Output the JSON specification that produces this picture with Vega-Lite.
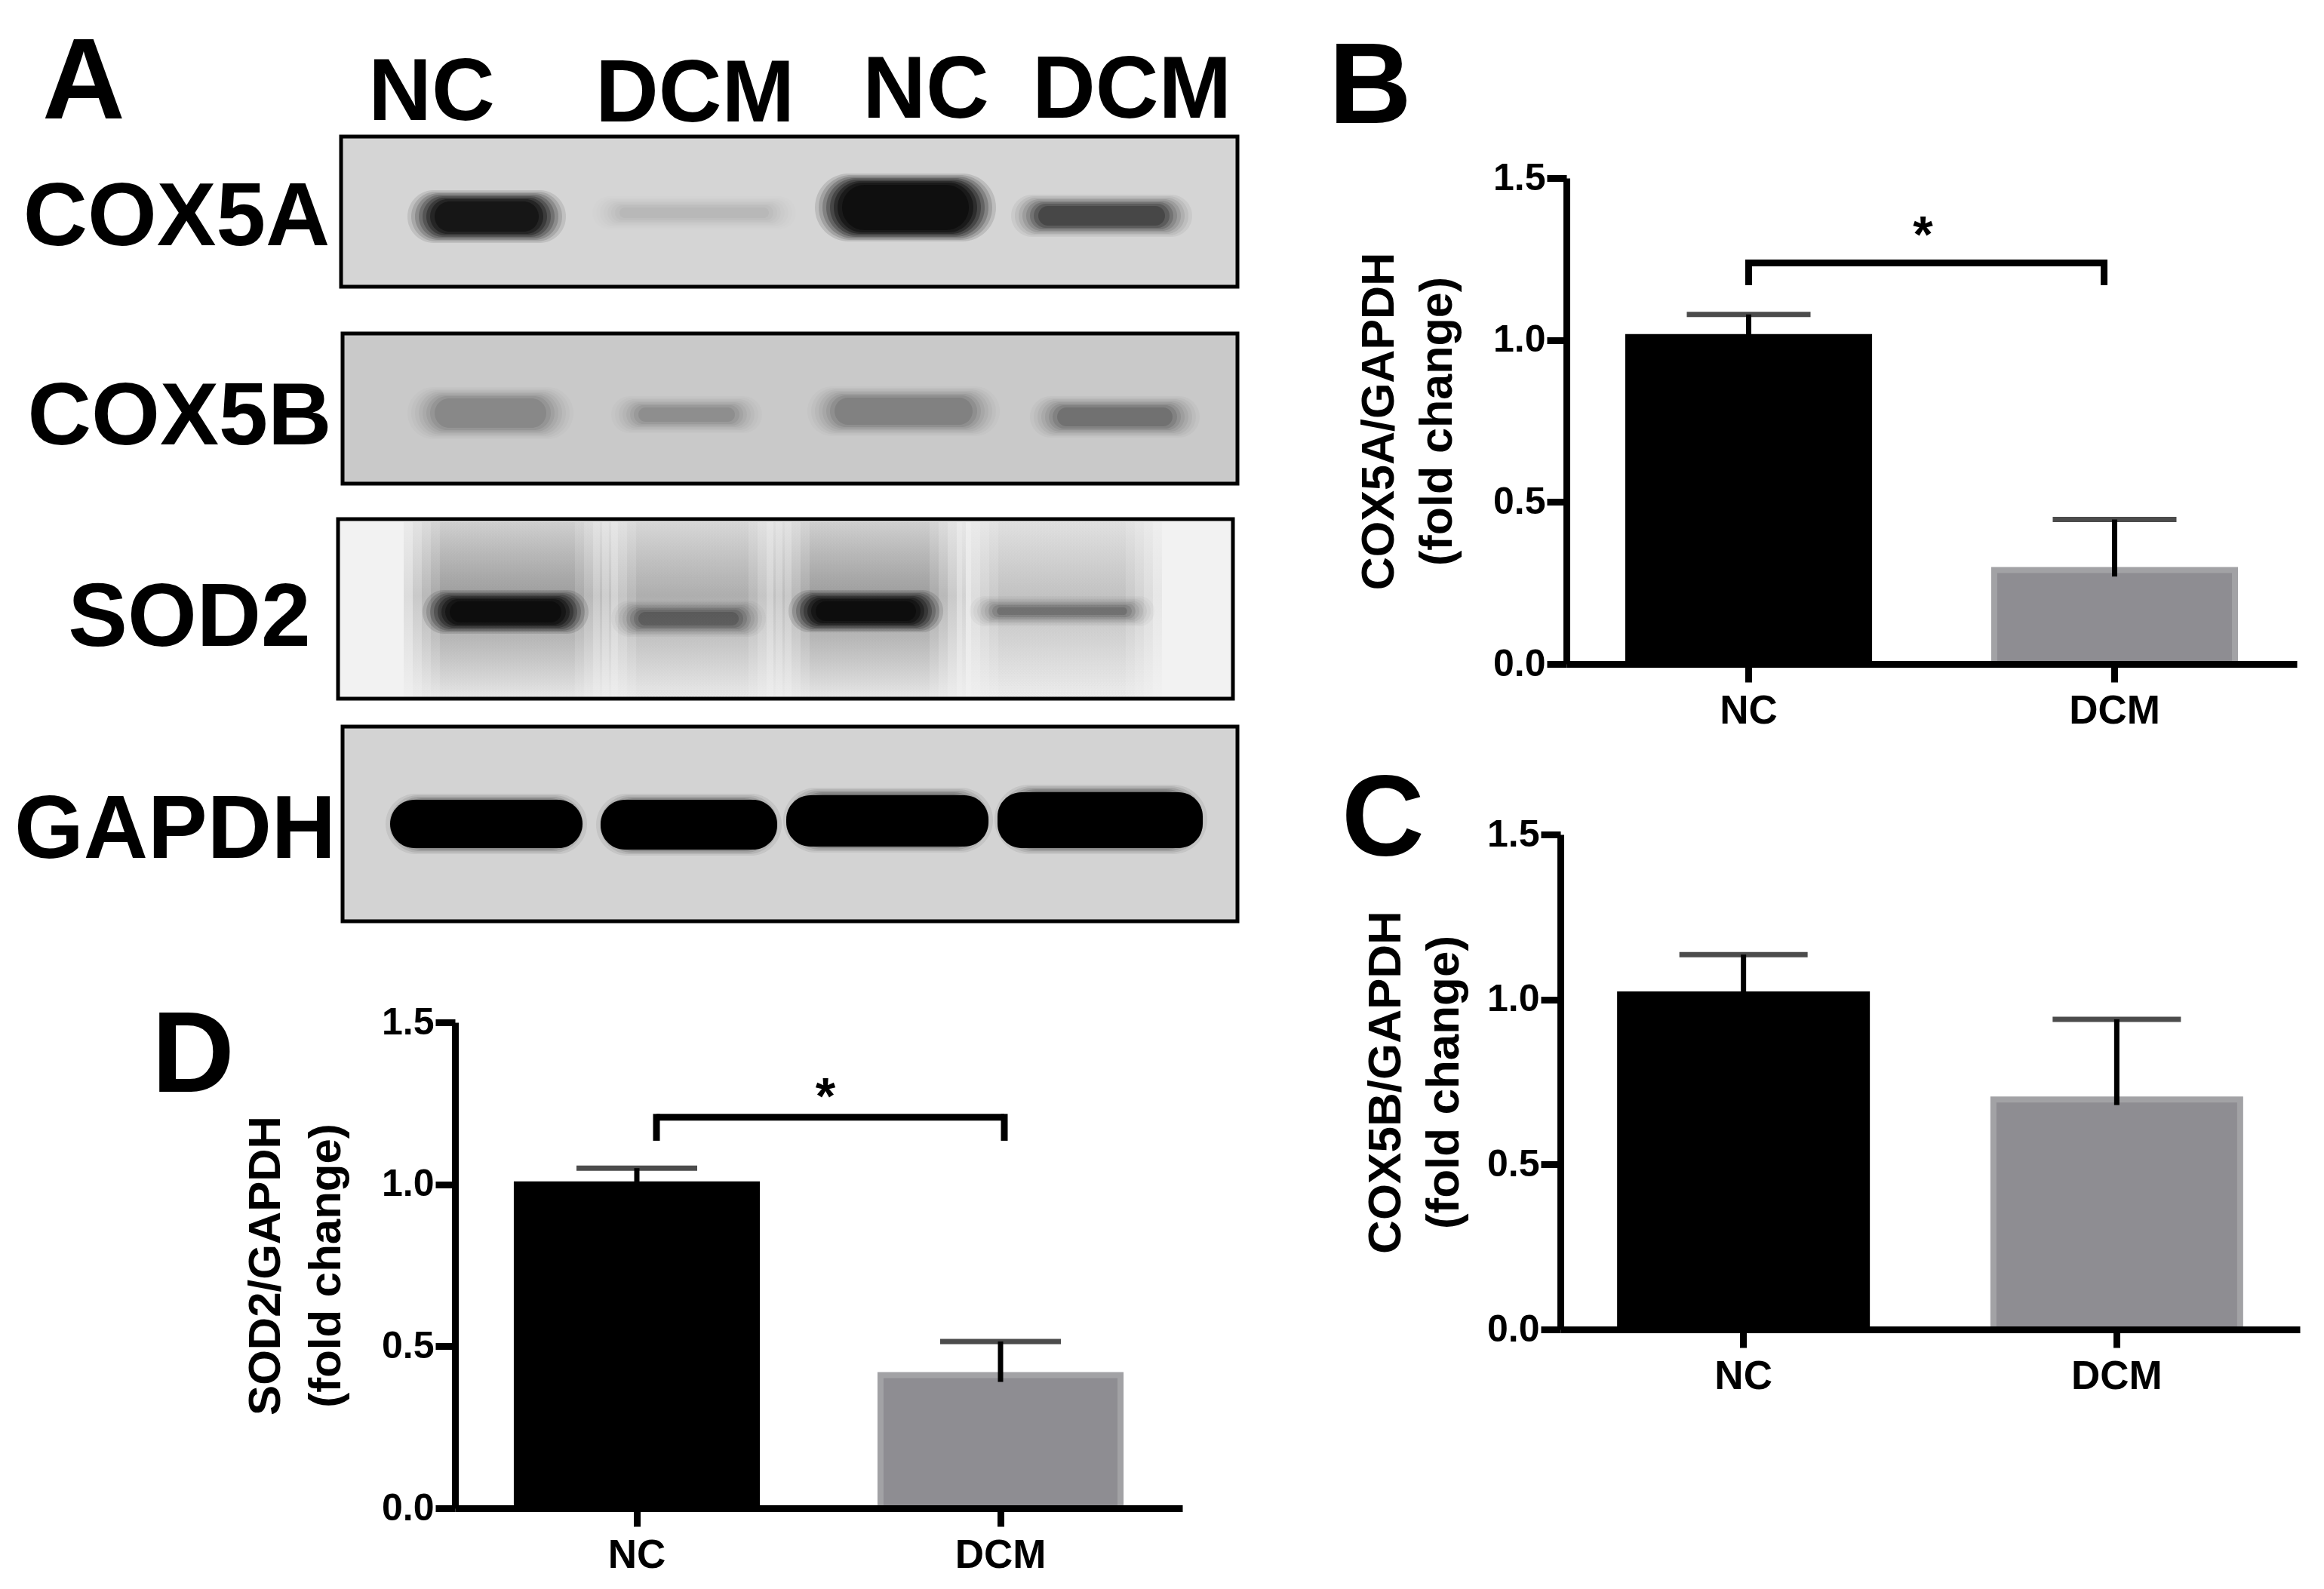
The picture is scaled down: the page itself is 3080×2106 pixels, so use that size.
{
"$schema":"https://vega.github.io/schema/vega-lite/v6.json",
"width":3080,"height":2106,"padding":0,"background":"white",
"config":{"view":{"stroke":null},"text":{"font":"Liberation Sans","fontWeight":"bold"}},
"datasets":{
"blots":[
{"protein":"COX5A","x0":452,"x1":1640,"y0":181,"y1":380,"shade":"#d5d5d5"},
{"protein":"COX5B","x0":454,"x1":1640,"y0":442,"y1":641,"shade":"#c9c9c9"},
{"protein":"SOD2","x0":448,"x1":1634,"y0":688,"y1":926,"shade":"#f2f2f2"},
{"protein":"GAPDH","x0":454,"x1":1640,"y0":963,"y1":1221,"shade":"#d3d3d3"}],
"smear":[
{"lane":1,"x0":535,"x1":810,"y0":692,"y1":924,"density":0.5},
{"lane":2,"x0":795,"x1":1040,"y0":692,"y1":924,"density":0.38},
{"lane":3,"x0":1025,"x1":1280,"y0":692,"y1":924,"density":0.5},
{"lane":4,"x0":1275,"x1":1540,"y0":692,"y1":924,"density":0.25}],
"bands":[
{"protein":"COX5A","lane":1,"x0":540,"x1":750,"y0":252,"y1":322,"density":0.85},
{"protein":"COX5A","lane":2,"x0":785,"x1":1055,"y0":260,"y1":304,"density":0.05},
{"protein":"COX5A","lane":3,"x0":1080,"x1":1320,"y0":230,"y1":320,"density":1},
{"protein":"COX5A","lane":4,"x0":1340,"x1":1580,"y0":258,"y1":314,"density":0.42},
{"protein":"COX5B","lane":1,"x0":540,"x1":760,"y0":513,"y1":582,"density":0.15},
{"protein":"COX5B","lane":2,"x0":810,"x1":1010,"y0":525,"y1":574,"density":0.13},
{"protein":"COX5B","lane":3,"x0":1070,"x1":1325,"y0":512,"y1":578,"density":0.17},
{"protein":"COX5B","lane":4,"x0":1365,"x1":1590,"y0":525,"y1":580,"density":0.22},
{"protein":"SOD2","lane":1,"x0":560,"x1":780,"y0":782,"y1":840,"density":1},
{"protein":"SOD2","lane":2,"x0":810,"x1":1015,"y0":796,"y1":844,"density":0.27},
{"protein":"SOD2","lane":3,"x0":1045,"x1":1250,"y0":782,"y1":838,"density":1},
{"protein":"SOD2","lane":4,"x0":1285,"x1":1530,"y0":790,"y1":830,"density":0.22},
{"protein":"GAPDH","lane":1,"x0":511,"x1":778,"y0":1052,"y1":1132,"density":0.6},
{"protein":"GAPDH","lane":2,"x0":790,"x1":1036,"y0":1052,"y1":1134,"density":0.6},
{"protein":"GAPDH","lane":3,"x0":1038,"x1":1316,"y0":1044,"y1":1130,"density":0.6},
{"protein":"GAPDH","lane":4,"x0":1318,"x1":1600,"y0":1040,"y1":1132,"density":0.6}],
"gapdhCore":[
{"lane":1,"x0":517,"x1":772,"y0":1060,"y1":1124},
{"lane":2,"x0":796,"x1":1030,"y0":1060,"y1":1126},
{"lane":3,"x0":1042,"x1":1310,"y0":1054,"y1":1122},
{"lane":4,"x0":1322,"x1":1594,"y0":1050,"y1":1124}],
"labels":[
{"t":"A","x":111,"y":157,"s":152},
{"t":"B","x":1816,"y":163,"s":152},
{"t":"C","x":1833,"y":1134,"s":152},
{"t":"D","x":256,"y":1447,"s":152},
{"t":"NC","x":572,"y":159,"s":116},
{"t":"DCM","x":921,"y":161,"s":116},
{"t":"NC","x":1227,"y":156,"s":116},
{"t":"DCM","x":1500,"y":156,"s":116},
{"t":"COX5A","x":234,"y":325,"s":118},
{"t":"COX5B","x":238,"y":589,"s":117},
{"t":"SOD2","x":251,"y":856,"s":118},
{"t":"GAPDH","x":232,"y":1137,"s":118}]
},
"layer":[
{"encoding":{"x":{"field":"x0","type":"quantitative","scale":{"domain":[0,3080],"range":[0,3080]},"axis":null},"x2":{"field":"x1"},"y":{"field":"y0","type":"quantitative","scale":{"domain":[0,2106],"range":[0,2106]},"axis":null},"y2":{"field":"y1"}},
"layer":[
{"data":{"name":"blots"},"mark":{"type":"rect","stroke":"black","strokeWidth":5},"encoding":{"fill":{"field":"shade","type":"nominal","scale":null,"legend":null}}},
{"data":{"name":"smear"},"mark":{"type":"rect","fillOpacity":0.25,"fill":{"gradient":"linear","x1":0,"y1":0,"x2":0,"y2":1,"stops":[{"offset":0,"color":"rgba(70,70,70,0.35)"},{"offset":0.42,"color":"rgba(70,70,70,1)"},{"offset":0.62,"color":"rgba(70,70,70,0.7)"},{"offset":1,"color":"rgba(70,70,70,0.12)"}]}},"encoding":{"opacity":{"field":"density","type":"quantitative","scale":null,"legend":null}}},
{"data":{"name":"smear"},"mark":{"type":"rect","xOffset":12,"x2Offset":-12,"fillOpacity":0.25,"fill":{"gradient":"linear","x1":0,"y1":0,"x2":0,"y2":1,"stops":[{"offset":0,"color":"rgba(70,70,70,0.35)"},{"offset":0.42,"color":"rgba(70,70,70,1)"},{"offset":0.62,"color":"rgba(70,70,70,0.7)"},{"offset":1,"color":"rgba(70,70,70,0.12)"}]}},"encoding":{"opacity":{"field":"density","type":"quantitative","scale":null,"legend":null}}},
{"data":{"name":"smear"},"mark":{"type":"rect","xOffset":24,"x2Offset":-24,"fillOpacity":0.25,"fill":{"gradient":"linear","x1":0,"y1":0,"x2":0,"y2":1,"stops":[{"offset":0,"color":"rgba(70,70,70,0.35)"},{"offset":0.42,"color":"rgba(70,70,70,1)"},{"offset":0.62,"color":"rgba(70,70,70,0.7)"},{"offset":1,"color":"rgba(70,70,70,0.12)"}]}},"encoding":{"opacity":{"field":"density","type":"quantitative","scale":null,"legend":null}}},
{"data":{"name":"smear"},"mark":{"type":"rect","xOffset":36,"x2Offset":-36,"fillOpacity":0.25,"fill":{"gradient":"linear","x1":0,"y1":0,"x2":0,"y2":1,"stops":[{"offset":0,"color":"rgba(70,70,70,0.35)"},{"offset":0.42,"color":"rgba(70,70,70,1)"},{"offset":0.62,"color":"rgba(70,70,70,0.7)"},{"offset":1,"color":"rgba(70,70,70,0.12)"}]}},"encoding":{"opacity":{"field":"density","type":"quantitative","scale":null,"legend":null}}},
{"data":{"name":"smear"},"mark":{"type":"rect","xOffset":48,"x2Offset":-48,"fillOpacity":0.25,"fill":{"gradient":"linear","x1":0,"y1":0,"x2":0,"y2":1,"stops":[{"offset":0,"color":"rgba(70,70,70,0.35)"},{"offset":0.42,"color":"rgba(70,70,70,1)"},{"offset":0.62,"color":"rgba(70,70,70,0.7)"},{"offset":1,"color":"rgba(70,70,70,0.12)"}]}},"encoding":{"opacity":{"field":"density","type":"quantitative","scale":null,"legend":null}}},
{"data":{"name":"bands"},"mark":{"type":"rect","fill":"#080808","fillOpacity":0.12,"cornerRadius":50},"encoding":{"opacity":{"field":"density","type":"quantitative","scale":null,"legend":null}}},
{"data":{"name":"bands"},"mark":{"type":"rect","fill":"#080808","fillOpacity":0.15,"cornerRadius":50,"xOffset":5,"x2Offset":-5,"yOffset":2,"y2Offset":-2},"encoding":{"opacity":{"field":"density","type":"quantitative","scale":null,"legend":null}}},
{"data":{"name":"bands"},"mark":{"type":"rect","fill":"#080808","fillOpacity":0.2,"cornerRadius":50,"xOffset":10,"x2Offset":-10,"yOffset":4,"y2Offset":-4},"encoding":{"opacity":{"field":"density","type":"quantitative","scale":null,"legend":null}}},
{"data":{"name":"bands"},"mark":{"type":"rect","fill":"#080808","fillOpacity":0.25,"cornerRadius":50,"xOffset":15,"x2Offset":-15,"yOffset":6,"y2Offset":-6},"encoding":{"opacity":{"field":"density","type":"quantitative","scale":null,"legend":null}}},
{"data":{"name":"bands"},"mark":{"type":"rect","fill":"#080808","fillOpacity":0.3,"cornerRadius":50,"xOffset":20,"x2Offset":-20,"yOffset":8,"y2Offset":-8},"encoding":{"opacity":{"field":"density","type":"quantitative","scale":null,"legend":null}}},
{"data":{"name":"bands"},"mark":{"type":"rect","fill":"#080808","fillOpacity":0.4,"cornerRadius":50,"xOffset":25,"x2Offset":-25,"yOffset":10,"y2Offset":-10},"encoding":{"opacity":{"field":"density","type":"quantitative","scale":null,"legend":null}}},
{"data":{"name":"bands"},"mark":{"type":"rect","fill":"#080808","fillOpacity":0.5,"cornerRadius":50,"xOffset":30,"x2Offset":-30,"yOffset":12,"y2Offset":-12},"encoding":{"opacity":{"field":"density","type":"quantitative","scale":null,"legend":null}}},
{"data":{"name":"bands"},"mark":{"type":"rect","fill":"#080808","fillOpacity":0.6,"cornerRadius":50,"xOffset":36,"x2Offset":-36,"yOffset":15,"y2Offset":-15},"encoding":{"opacity":{"field":"density","type":"quantitative","scale":null,"legend":null}}},
{"data":{"name":"gapdhCore"},"mark":{"type":"rect","fill":"black","cornerRadius":32}},
{"data":{"name":"labels"},"mark":{"type":"text","baseline":"alphabetic","align":"center","color":"black"},
 "encoding":{"x":{"field":"x","type":"quantitative","scale":{"domain":[0,3080],"range":[0,3080]},"axis":null},"x2":null,"y":{"field":"y","type":"quantitative","scale":{"domain":[0,2106],"range":[0,2106]},"axis":null},"y2":null,"text":{"field":"t"},"size":{"field":"s","type":"quantitative","scale":null,"legend":null}}}
]},
{"data":{"values":[{"group":"NC","mean":1.009,"low":0.99,"high":1.079},{"group":"DCM","mean":0.29,"low":0.27,"high":0.446}]},
"layer":[
{"mark":{"type":"bar","strokeWidth":8},"encoding":{
 "x":{"field":"group","type":"nominal","scale":{"domain":["NC","DCM"],"range":[2076,3044],"paddingInner":0.342,"paddingOuter":0.169},"axis":{"orient":"bottom","offset":-1226,"title":null,"labelAngle":0,"labelFont":"Liberation Sans","labelFontWeight":"bold","labelFontSize":53,"labelColor":"black","labelPadding":12,"domainColor":"black","domainWidth":9,"tickColor":"black","tickWidth":9,"tickSize":24,"zindex":1}},
 "y":{"field":"mean","type":"quantitative","scale":{"domain":[0,1.5],"range":[880,236],"nice":false},"axis":{"orient":"left","offset":-2076,"values":[0,0.5,1,1.5],"format":".1f","title":["COX5A/GAPDH","(fold change)"],"titleFont":"Liberation Sans","titleFontWeight":"bold","titleFontSize":61,"titleLineHeight":77,"titleColor":"black","titlePadding":42,"labelFont":"Liberation Sans","labelFontWeight":"bold","labelFontSize":50,"labelColor":"black","labelPadding":2,"domainColor":"black","domainWidth":9,"tickColor":"black","tickWidth":9,"tickSize":26,"grid":false,"zindex":1}},
 "fill":{"field":"group","type":"nominal","scale":{"domain":["NC","DCM"],"range":["#000000","#8e8d92"]},"legend":null},
 "stroke":{"field":"group","type":"nominal","scale":{"domain":["NC","DCM"],"range":["#000000","#a2a2a5"]},"legend":null}}},
{"mark":{"type":"rule","color":"black","strokeWidth":7},"encoding":{
 "x":{"field":"group","type":"nominal","scale":{"domain":["NC","DCM"],"range":[2076,3044],"paddingInner":0.342,"paddingOuter":0.169}},
 "y":{"field":"low","type":"quantitative","scale":{"domain":[0,1.5],"range":[880,236],"nice":false}},"y2":{"field":"high"}}},
{"mark":{"type":"tick","color":"black","thickness":7,"size":164,"orient":"horizontal"},"encoding":{
 "x":{"field":"group","type":"nominal","scale":{"domain":["NC","DCM"],"range":[2076,3044],"paddingInner":0.342,"paddingOuter":0.169}},
 "y":{"field":"high","type":"quantitative","scale":{"domain":[0,1.5],"range":[880,236],"nice":false}}}},
{"data":{"values":[{"a":"NC","b":"DCM","top":1.238,"foot":1.18,"star":1.318}]},"layer":[
 {"mark":{"type":"rule","color":"black","strokeWidth":9,"strokeCap":"square","xOffset":0},"encoding":{"x":{"field":"a","type":"nominal","scale":{"domain":["NC","DCM"],"range":[2076,3044],"paddingInner":0.342,"paddingOuter":0.169}},"y":{"field":"foot","type":"quantitative","scale":{"domain":[0,1.5],"range":[880,236],"nice":false}},"y2":{"field":"top"}}},
 {"mark":{"type":"rule","color":"black","strokeWidth":9,"strokeCap":"square","xOffset":-14},"encoding":{"x":{"field":"b","type":"nominal","scale":{"domain":["NC","DCM"],"range":[2076,3044],"paddingInner":0.342,"paddingOuter":0.169}},"y":{"field":"foot","type":"quantitative","scale":{"domain":[0,1.5],"range":[880,236],"nice":false}},"y2":{"field":"top"}}},
 {"mark":{"type":"rule","color":"black","strokeWidth":9,"xOffset":0,"x2Offset":-14},"encoding":{"x":{"field":"a","type":"nominal","scale":{"domain":["NC","DCM"],"range":[2076,3044],"paddingInner":0.342,"paddingOuter":0.169}},"x2":{"field":"b"},"y":{"field":"top","type":"quantitative","scale":{"domain":[0,1.5],"range":[880,236],"nice":false}}}},
 {"mark":{"type":"text","text":"*","fontSize":68,"dx":231,"baseline":"middle","color":"black"},"encoding":{"x":{"field":"a","type":"nominal","scale":{"domain":["NC","DCM"],"range":[2076,3044],"paddingInner":0.342,"paddingOuter":0.169}},"y":{"field":"star","type":"quantitative","scale":{"domain":[0,1.5],"range":[880,236],"nice":false}}}}
]}
]},
{"data":{"values":[{"group":"NC","mean":1.015,"low":0.995,"high":1.136},{"group":"DCM","mean":0.697,"low":0.68,"high":0.94}]},
"layer":[
{"mark":{"type":"bar","strokeWidth":8},"encoding":{
 "x":{"field":"group","type":"nominal","scale":{"domain":["NC","DCM"],"range":[2068,3048],"paddingInner":0.339,"paddingOuter":0.16},"axis":{"orient":"bottom","offset":-344,"title":null,"labelAngle":0,"labelFont":"Liberation Sans","labelFontWeight":"bold","labelFontSize":53,"labelColor":"black","labelPadding":12,"domainColor":"black","domainWidth":9,"tickColor":"black","tickWidth":9,"tickSize":24,"zindex":1}},
 "y":{"field":"mean","type":"quantitative","scale":{"domain":[0,1.5],"range":[1762,1106],"nice":false},"axis":{"orient":"left","offset":-2068,"values":[0,0.5,1,1.5],"format":".1f","title":["COX5B/GAPDH","(fold change)"],"titleFont":"Liberation Sans","titleFontWeight":"bold","titleFontSize":62,"titleLineHeight":77,"titleColor":"black","titlePadding":25,"labelFont":"Liberation Sans","labelFontWeight":"bold","labelFontSize":50,"labelColor":"black","labelPadding":2,"domainColor":"black","domainWidth":9,"tickColor":"black","tickWidth":9,"tickSize":26,"grid":false,"zindex":1}},
 "fill":{"field":"group","type":"nominal","scale":{"domain":["NC","DCM"],"range":["#000000","#8e8d92"]},"legend":null},
 "stroke":{"field":"group","type":"nominal","scale":{"domain":["NC","DCM"],"range":["#000000","#a2a2a5"]},"legend":null}}},
{"mark":{"type":"rule","color":"black","strokeWidth":7},"encoding":{
 "x":{"field":"group","type":"nominal","scale":{"domain":["NC","DCM"],"range":[2068,3048],"paddingInner":0.339,"paddingOuter":0.16}},
 "y":{"field":"low","type":"quantitative","scale":{"domain":[0,1.5],"range":[1762,1106],"nice":false}},"y2":{"field":"high"}}},
{"mark":{"type":"tick","color":"black","thickness":7,"size":170,"orient":"horizontal"},"encoding":{
 "x":{"field":"group","type":"nominal","scale":{"domain":["NC","DCM"],"range":[2068,3048],"paddingInner":0.339,"paddingOuter":0.16}},
 "y":{"field":"high","type":"quantitative","scale":{"domain":[0,1.5],"range":[1762,1106],"nice":false}}}}
]},
{"data":{"values":[{"group":"NC","mean":1.0,"low":0.98,"high":1.05},{"group":"DCM","mean":0.411,"low":0.39,"high":0.515}]},
"layer":[
{"mark":{"type":"bar","strokeWidth":8},"encoding":{
 "x":{"field":"group","type":"nominal","scale":{"domain":["NC","DCM"],"range":[603,1567],"paddingInner":0.34,"paddingOuter":0.17},"axis":{"orient":"bottom","offset":-107,"title":null,"labelAngle":0,"labelFont":"Liberation Sans","labelFontWeight":"bold","labelFontSize":53,"labelColor":"black","labelPadding":12,"domainColor":"black","domainWidth":9,"tickColor":"black","tickWidth":9,"tickSize":24,"zindex":1}},
 "y":{"field":"mean","type":"quantitative","scale":{"domain":[0,1.5],"range":[1999,1355],"nice":false},"axis":{"orient":"left","offset":-603,"values":[0,0.5,1,1.5],"format":".1f","title":["SOD2/GAPDH","(fold change)"],"titleFont":"Liberation Sans","titleFontWeight":"bold","titleFontSize":60,"titleLineHeight":80,"titleColor":"black","titlePadding":42,"labelFont":"Liberation Sans","labelFontWeight":"bold","labelFontSize":50,"labelColor":"black","labelPadding":2,"domainColor":"black","domainWidth":9,"tickColor":"black","tickWidth":9,"tickSize":26,"grid":false,"zindex":1}},
 "fill":{"field":"group","type":"nominal","scale":{"domain":["NC","DCM"],"range":["#000000","#8e8d92"]},"legend":null},
 "stroke":{"field":"group","type":"nominal","scale":{"domain":["NC","DCM"],"range":["#000000","#a2a2a5"]},"legend":null}}},
{"mark":{"type":"rule","color":"black","strokeWidth":7},"encoding":{
 "x":{"field":"group","type":"nominal","scale":{"domain":["NC","DCM"],"range":[603,1567],"paddingInner":0.34,"paddingOuter":0.17}},
 "y":{"field":"low","type":"quantitative","scale":{"domain":[0,1.5],"range":[1999,1355],"nice":false}},"y2":{"field":"high"}}},
{"mark":{"type":"tick","color":"black","thickness":7,"size":160,"orient":"horizontal"},"encoding":{
 "x":{"field":"group","type":"nominal","scale":{"domain":["NC","DCM"],"range":[603,1567],"paddingInner":0.34,"paddingOuter":0.17}},
 "y":{"field":"high","type":"quantitative","scale":{"domain":[0,1.5],"range":[1999,1355],"nice":false}}}},
{"data":{"values":[{"a":"NC","b":"DCM","top":1.207,"foot":1.145,"star":1.264}]},"layer":[
 {"mark":{"type":"rule","color":"black","strokeWidth":9,"strokeCap":"square","xOffset":26},"encoding":{"x":{"field":"a","type":"nominal","scale":{"domain":["NC","DCM"],"range":[603,1567],"paddingInner":0.34,"paddingOuter":0.17}},"y":{"field":"foot","type":"quantitative","scale":{"domain":[0,1.5],"range":[1999,1355],"nice":false}},"y2":{"field":"top"}}},
 {"mark":{"type":"rule","color":"black","strokeWidth":9,"strokeCap":"square","xOffset":5},"encoding":{"x":{"field":"b","type":"nominal","scale":{"domain":["NC","DCM"],"range":[603,1567],"paddingInner":0.34,"paddingOuter":0.17}},"y":{"field":"foot","type":"quantitative","scale":{"domain":[0,1.5],"range":[1999,1355],"nice":false}},"y2":{"field":"top"}}},
 {"mark":{"type":"rule","color":"black","strokeWidth":9,"xOffset":26,"x2Offset":5},"encoding":{"x":{"field":"a","type":"nominal","scale":{"domain":["NC","DCM"],"range":[603,1567],"paddingInner":0.34,"paddingOuter":0.17}},"x2":{"field":"b"},"y":{"field":"top","type":"quantitative","scale":{"domain":[0,1.5],"range":[1999,1355],"nice":false}}}},
 {"mark":{"type":"text","text":"*","fontSize":68,"dx":250,"baseline":"middle","color":"black"},"encoding":{"x":{"field":"a","type":"nominal","scale":{"domain":["NC","DCM"],"range":[603,1567],"paddingInner":0.34,"paddingOuter":0.17}},"y":{"field":"star","type":"quantitative","scale":{"domain":[0,1.5],"range":[1999,1355],"nice":false}}}}
]}
]}
],
"resolve":{"scale":{"x":"independent","y":"independent","fill":"independent","stroke":"independent"},"axis":{"x":"independent","y":"independent"}}
}
